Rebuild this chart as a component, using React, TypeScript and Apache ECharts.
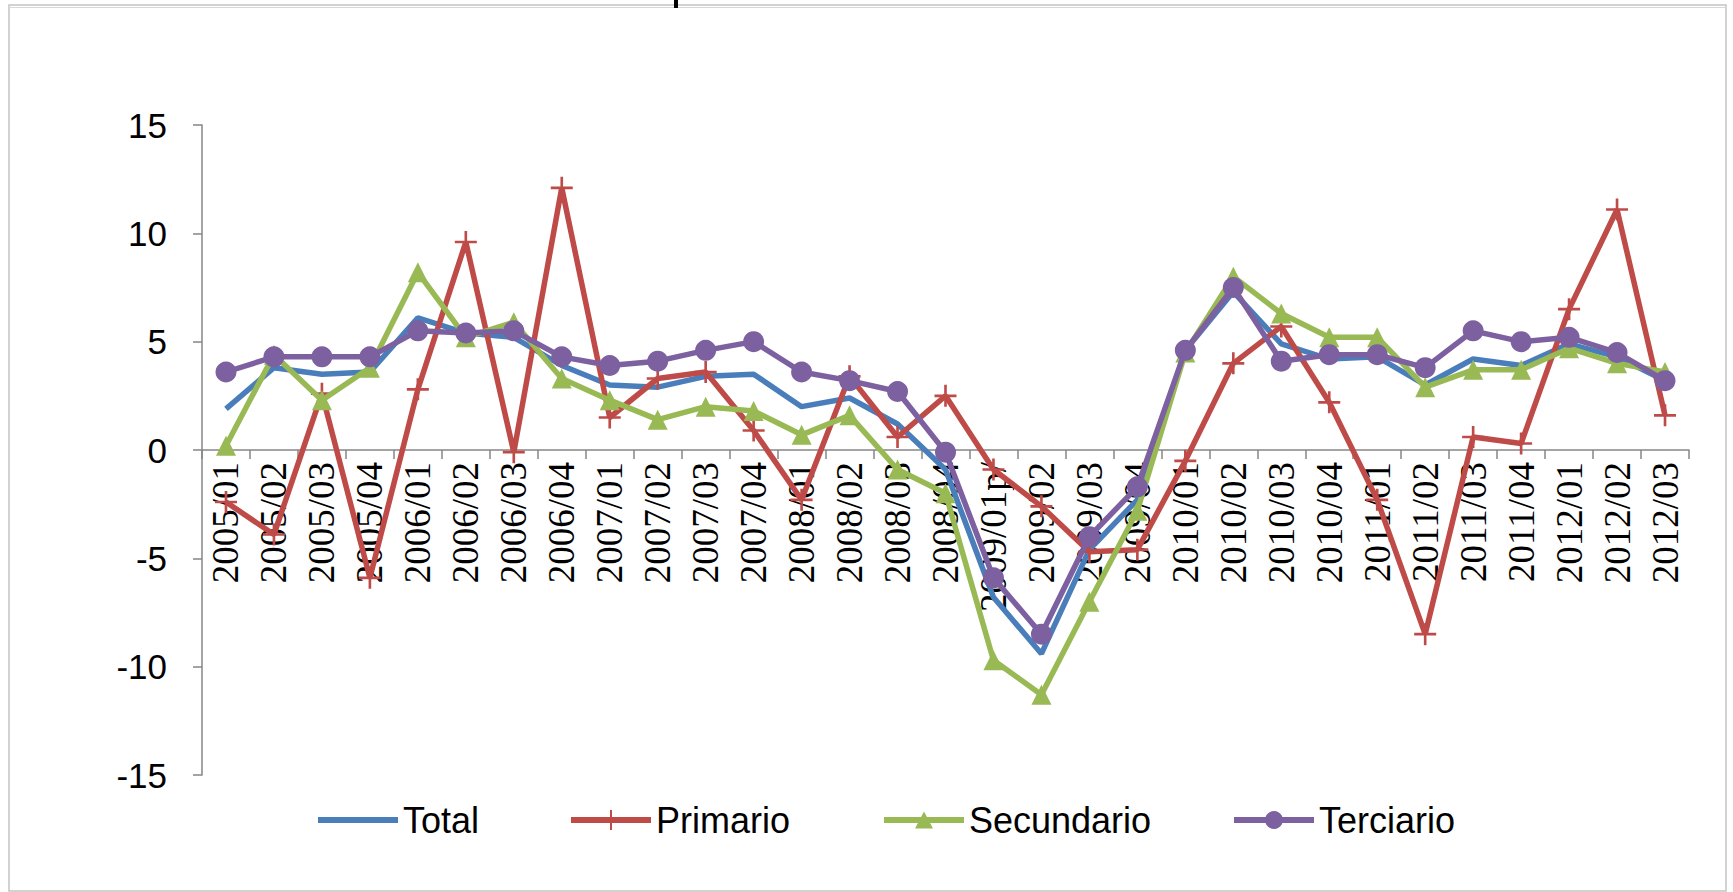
import React, { useEffect, useRef } from "react";
import * as echarts from "echarts";

const categories = [
  "2005/01", "2005/02", "2005/03", "2005/04",
  "2006/01", "2006/02", "2006/03", "2006/04",
  "2007/01", "2007/02", "2007/03", "2007/04",
  "2008/01", "2008/02", "2008/03", "2008/04",
  "2009/01p/", "2009/02", "2009/03", "2009/04",
  "2010/01", "2010/02", "2010/03", "2010/04",
  "2011/01", "2011/02", "2011/03", "2011/04",
  "2012/01", "2012/02", "2012/03",
];

const total = [
  1.9, 3.8, 3.5, 3.6,
  6.1, 5.4, 5.2, 3.9,
  3.0, 2.9, 3.4, 3.5,
  2.0, 2.4, 1.2, -0.9,
  -6.8, -9.4, -4.6, -2.3,
  4.6, 7.3, 4.9, 4.2,
  4.3, 3.0, 4.2, 3.9,
  4.9, 4.3, 3.2,
];

const primario = [
  -2.4, -3.9, 2.6, -5.9,
  2.8, 9.6, -0.1, 12.1,
  1.5, 3.3, 3.6, 0.9,
  -2.3, 3.4, 0.6, 2.5,
  -0.9, -2.6, -4.7, -4.6,
  -0.5, 4.0, 5.7, 2.2,
  -2.3, -8.5, 0.6, 0.3,
  6.5, 11.1, 1.6,
];

const secundario = [
  0.2, 4.4, 2.3, 3.8,
  8.2, 5.2, 5.9, 3.3,
  2.3, 1.4, 2.0, 1.8,
  0.7, 1.6, -0.9, -2.0,
  -9.7, -11.3, -7.0, -2.8,
  4.5, 8.0, 6.3, 5.2,
  5.2, 2.9, 3.7, 3.7,
  4.7, 4.0, 3.6,
];

const terciario = [
  3.6, 4.3, 4.3, 4.3,
  5.5, 5.4, 5.5, 4.3,
  3.9, 4.1, 4.6, 5.0,
  3.6, 3.2, 2.7, -0.1,
  -5.9, -8.5, -4.0, -1.7,
  4.6, 7.5, 4.1, 4.4,
  4.4, 3.8, 5.5, 5.0,
  5.2, 4.5, 3.2,
];

const yTicks = [-15, -10, -5, 0, 5, 10, 15];

const seriesNames = ["Total", "Primario", "Secundario", "Terciario"];
const seriesColors = ["#4A7EBB", "#BE4B48", "#98B954", "#7D60A0"];

const crossSymbol = "path://M-1.2,-10H1.2V-1.2H10V1.2H1.2V10H-1.2V1.2H-10V-1.2H-1.2Z";

// legend icons drawn in an 80x20 box (thin sliver at x=0 keeps the full box height)
const legendIcons = [
  "path://M0,0H0.01V20H0ZM0,7H80V13H0Z",
  "path://M0,7H39V0H41V7H80V13H41V20H39V13H0Z",
  "path://M0,0H0.01V20H0ZM0,7H80V13H0ZM40,1.5L49,18.5H31Z",
  "path://M0,0H0.01V20H0ZM0,7H80V13H0ZM40,1A9,9 0 1,1 39.99,1Z",
];
const legendLefts = [313, 566, 879, 1229];

export default function App() {
  const ref = useRef<HTMLDivElement>(null);

  useEffect(() => {
    document.body.style.margin = "0";
    document.body.style.overflow = "hidden";
    if (!ref.current) return;
    const chart = echarts.init(ref.current, undefined, { renderer: "svg" });

    const mk = (i: number, data: number[], symbol: string, size: number) => ({
      name: seriesNames[i],
      type: "line",
      data,
      symbol,
      symbolSize: size,
      showSymbol: symbol !== "none",
      color: seriesColors[i],
      lineStyle: { color: seriesColors[i], width: 5.5 },
      itemStyle: { color: seriesColors[i] },
      z: 2 + i,
    });

    const gridTop = 125;
    const gridBottom = 117;
    const plotH = 892 - gridTop - gridBottom;
    const zeroOffset = -plotH * (0 - yTicks[0]) / (yTicks[yTicks.length - 1] - yTicks[0]);

    chart.setOption({
      animation: false,
      backgroundColor: "#ffffff",
      grid: {
        left: 202,
        right: 44,
        top: gridTop,
        bottom: gridBottom,
        containLabel: false,
        outerBoundsMode: "none",
      },
      legend: seriesNames.map((n, i) => ({
        data: [{ name: n, icon: legendIcons[i] }],
        left: legendLefts[i],
        top: 797,
        itemWidth: 80,
        itemHeight: 20,
        textStyle: { fontFamily: "'Liberation Sans', Arial, sans-serif", fontSize: 36, color: "#000" },
      })),
      xAxis: {
        type: "category",
        data: categories,
        boundaryGap: true,
        position: "bottom",
        offset: zeroOffset,
        axisLine: { onZero: false, lineStyle: { color: "#868686", width: 1.5 } },
        axisTick: { show: true, length: 9, lineStyle: { color: "#868686", width: 1.5 } },
        axisLabel: {
          interval: 0,
          rotate: 90,
          margin: 12,
          fontFamily: "'Liberation Serif', 'DejaVu Serif', serif",
          fontSize: 37,
          color: "#000",
        },
        splitLine: { show: false },
      },
      yAxis: {
        type: "value",
        min: yTicks[0],
        max: yTicks[yTicks.length - 1],
        interval: 5,
        axisLine: { show: true, lineStyle: { color: "#868686", width: 1.5 } },
        axisTick: { show: true, length: 9, lineStyle: { color: "#868686", width: 1.5 } },
        axisLabel: {
          margin: 35,
          fontFamily: "'Liberation Sans', Arial, sans-serif",
          fontSize: 35,
          color: "#000",
        },
        splitLine: { show: false },
      },
      graphic: [
        {
          type: "rect",
          shape: { x: 9, y: 5, width: 1717, height: 886 },
          style: { fill: "none", stroke: "#c4c4c4", lineWidth: 1.5 },
          silent: true,
        },
        {
          type: "line",
          shape: { x1: 9, y1: 7.5, x2: 1726, y2: 7.5 },
          style: { stroke: "#d8d8d8", lineWidth: 1 },
          silent: true,
        },
        {
          type: "rect",
          shape: { x: 674, y: 0, width: 4, height: 8 },
          style: { fill: "#000" },
          silent: true,
        },
      ],
      series: [
        mk(0, total, "none", 0),
        mk(1, primario, crossSymbol, 22),
        mk(2, secundario, "triangle", 20),
        mk(3, terciario, "circle", 21),
      ],
    });

    return () => chart.dispose();
  }, []);

  return <div ref={ref} style={{ width: 1733, height: 892 }} />;
}
